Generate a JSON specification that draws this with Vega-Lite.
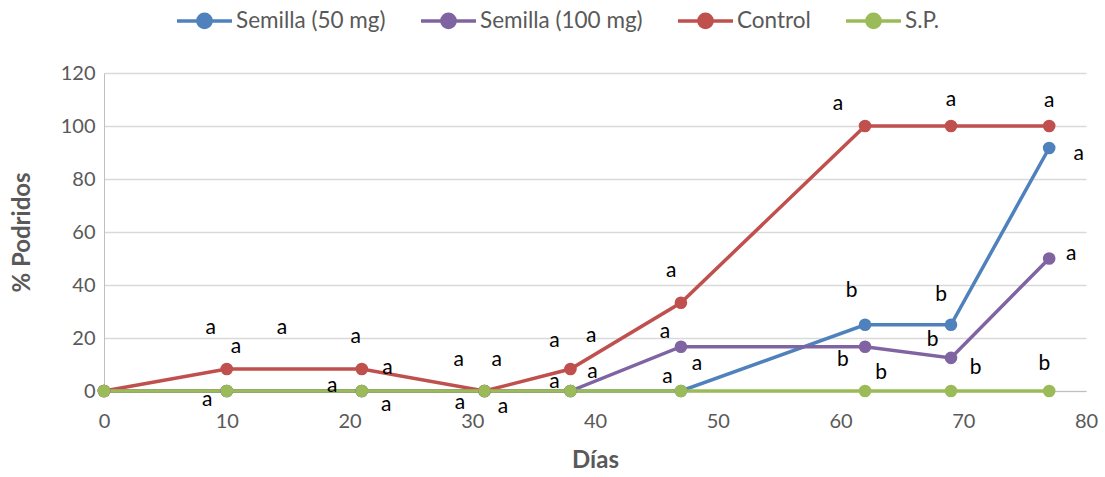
{
  "$schema": "https://vega.github.io/schema/vega-lite/v6.json",
  "autosize": {"type": "none"},
  "width": 982,
  "height": 318,
  "padding": {"left": 104, "top": 73, "right": 19, "bottom": 86},
  "config": {"font": "Lato", "view": {"stroke": null}},
  "datasets": {
    "series": [
      {"serie": "Semilla (50 mg)", "dia": 0, "pct": 0},
      {"serie": "Semilla (50 mg)", "dia": 10, "pct": 0},
      {"serie": "Semilla (50 mg)", "dia": 21, "pct": 0},
      {"serie": "Semilla (50 mg)", "dia": 31, "pct": 0},
      {"serie": "Semilla (50 mg)", "dia": 38, "pct": 0},
      {"serie": "Semilla (50 mg)", "dia": 47, "pct": 0},
      {"serie": "Semilla (50 mg)", "dia": 62, "pct": 25},
      {"serie": "Semilla (50 mg)", "dia": 69, "pct": 25},
      {"serie": "Semilla (50 mg)", "dia": 77, "pct": 91.7},
      {"serie": "Semilla (100 mg)", "dia": 0, "pct": 0},
      {"serie": "Semilla (100 mg)", "dia": 10, "pct": 0},
      {"serie": "Semilla (100 mg)", "dia": 21, "pct": 0},
      {"serie": "Semilla (100 mg)", "dia": 31, "pct": 0},
      {"serie": "Semilla (100 mg)", "dia": 38, "pct": 0},
      {"serie": "Semilla (100 mg)", "dia": 47, "pct": 16.7},
      {"serie": "Semilla (100 mg)", "dia": 62, "pct": 16.7},
      {"serie": "Semilla (100 mg)", "dia": 69, "pct": 12.5},
      {"serie": "Semilla (100 mg)", "dia": 77, "pct": 50},
      {"serie": "Control", "dia": 0, "pct": 0},
      {"serie": "Control", "dia": 10, "pct": 8.3},
      {"serie": "Control", "dia": 21, "pct": 8.3},
      {"serie": "Control", "dia": 31, "pct": 0},
      {"serie": "Control", "dia": 38, "pct": 8.3},
      {"serie": "Control", "dia": 47, "pct": 33.3},
      {"serie": "Control", "dia": 62, "pct": 100},
      {"serie": "Control", "dia": 69, "pct": 100},
      {"serie": "Control", "dia": 77, "pct": 100},
      {"serie": "S.P.", "dia": 0, "pct": 0},
      {"serie": "S.P.", "dia": 10, "pct": 0},
      {"serie": "S.P.", "dia": 21, "pct": 0},
      {"serie": "S.P.", "dia": 31, "pct": 0},
      {"serie": "S.P.", "dia": 38, "pct": 0},
      {"serie": "S.P.", "dia": 47, "pct": 0},
      {"serie": "S.P.", "dia": 62, "pct": 0},
      {"serie": "S.P.", "dia": 69, "pct": 0},
      {"serie": "S.P.", "dia": 77, "pct": 0}
    ],
    "labels": [
      {"dia": 8.7, "pct": 23.7, "letra": "a"},
      {"dia": 14.5, "pct": 23.7, "letra": "a"},
      {"dia": 10.75, "pct": 16.7, "letra": "a"},
      {"dia": 8.4, "pct": -3.4, "letra": "a"},
      {"dia": 20.5, "pct": 20.5, "letra": "a"},
      {"dia": 23.1, "pct": 8.6, "letra": "a"},
      {"dia": 18.6, "pct": 1.9, "letra": "a"},
      {"dia": 23.0, "pct": -5.3, "letra": "a"},
      {"dia": 28.9, "pct": 11.7, "letra": "a"},
      {"dia": 32.0, "pct": 11.7, "letra": "a"},
      {"dia": 29.0, "pct": -4.6, "letra": "a"},
      {"dia": 32.5, "pct": -5.9, "letra": "a"},
      {"dia": 36.7, "pct": 18.8, "letra": "a"},
      {"dia": 39.7, "pct": 20.9, "letra": "a"},
      {"dia": 36.7, "pct": 3.4, "letra": "a"},
      {"dia": 39.8, "pct": 7.1, "letra": "a"},
      {"dia": 46.2, "pct": 45.1, "letra": "a"},
      {"dia": 45.7, "pct": 22.4, "letra": "a"},
      {"dia": 48.3, "pct": 10.3, "letra": "a"},
      {"dia": 45.9, "pct": 5.3, "letra": "a"},
      {"dia": 59.8, "pct": 108.2, "letra": "a"},
      {"dia": 60.9, "pct": 37.6, "letra": "b"},
      {"dia": 60.2, "pct": 11.8, "letra": "b"},
      {"dia": 63.3, "pct": 6.8, "letra": "b"},
      {"dia": 69.0, "pct": 110, "letra": "a"},
      {"dia": 68.2, "pct": 36.4, "letra": "b"},
      {"dia": 67.5, "pct": 19.3, "letra": "b"},
      {"dia": 71.0, "pct": 8.8, "letra": "b"},
      {"dia": 77.0, "pct": 109.4, "letra": "a"},
      {"dia": 79.4, "pct": 89.6, "letra": "a"},
      {"dia": 78.8, "pct": 51.6, "letra": "a"},
      {"dia": 76.6, "pct": 10.3, "letra": "b"}
    ]
  },
  "layer": [
    {
      "data": {"name": "series"},
      "mark": {"type": "line", "strokeWidth": 3.5, "point": {"filled": true, "size": 160, "opacity": 1}},
      "encoding": {
        "x": {
          "field": "dia", "type": "quantitative",
          "scale": {"domain": [0, 80], "nice": false, "zero": false},
          "axis": {
            "title": "Días", "values": [0, 10, 20, 30, 40, 50, 60, 70, 80],
            "titleFontSize": 24, "titleFontWeight": "bold", "titleColor": "#595959",
            "labelFontSize": 20, "labelColor": "#595959", "labelFontWeight": "normal",
            "labelFlush": false, "labelOverlap": false,
            "ticks": false, "grid": false, "domainColor": "#BFBFBF", "domainWidth": 1,
            "labelPadding": 20, "titlePadding": 17
          }
        },
        "y": {
          "field": "pct", "type": "quantitative",
          "scale": {"domain": [0, 120], "nice": false},
          "axis": {
            "title": "% Podridos", "values": [0, 20, 40, 60, 80, 100, 120],
            "titleFontSize": 24, "titleFontWeight": "bold", "titleColor": "#595959",
            "labelFontSize": 20, "labelColor": "#595959",
            "labelFlush": false, "labelOverlap": false,
            "ticks": false, "grid": true, "gridColor": "#D9D9D9", "gridWidth": 1.3,
            "domainColor": "#BFBFBF", "domainWidth": 1,
            "labelPadding": 9, "titlePadding": 26
          }
        },
        "color": {
          "field": "serie", "type": "nominal",
          "scale": {
            "domain": ["Semilla (50 mg)", "Semilla (100 mg)", "Control", "S.P."],
            "range": ["#4F81BD", "#8064A2", "#C0504D", "#9BBB59"]
          },
          "legend": {
            "title": null, "orient": "none", "direction": "horizontal",
            "legendX": 71, "legendY": -82,
            "symbolType": "M-1,0H1M0.24,0A0.24,0.24,0,1,1,-0.24,0A0.24,0.24,0,1,1,0.24,0Z",
            "symbolSize": 3025, "symbolStrokeWidth": 3.5,
            "labelFontSize": 22.5, "labelColor": "#595959", "labelOffset": 2,
            "labelLimit": 400, "columnPadding": 28
          }
        }
      }
    },
    {
      "data": {"name": "labels"},
      "mark": {"type": "text", "fontSize": 21, "color": "black", "baseline": "middle", "align": "center"},
      "encoding": {
        "x": {"field": "dia", "type": "quantitative"},
        "y": {"field": "pct", "type": "quantitative"},
        "text": {"field": "letra", "type": "nominal"}
      }
    }
  ]
}
